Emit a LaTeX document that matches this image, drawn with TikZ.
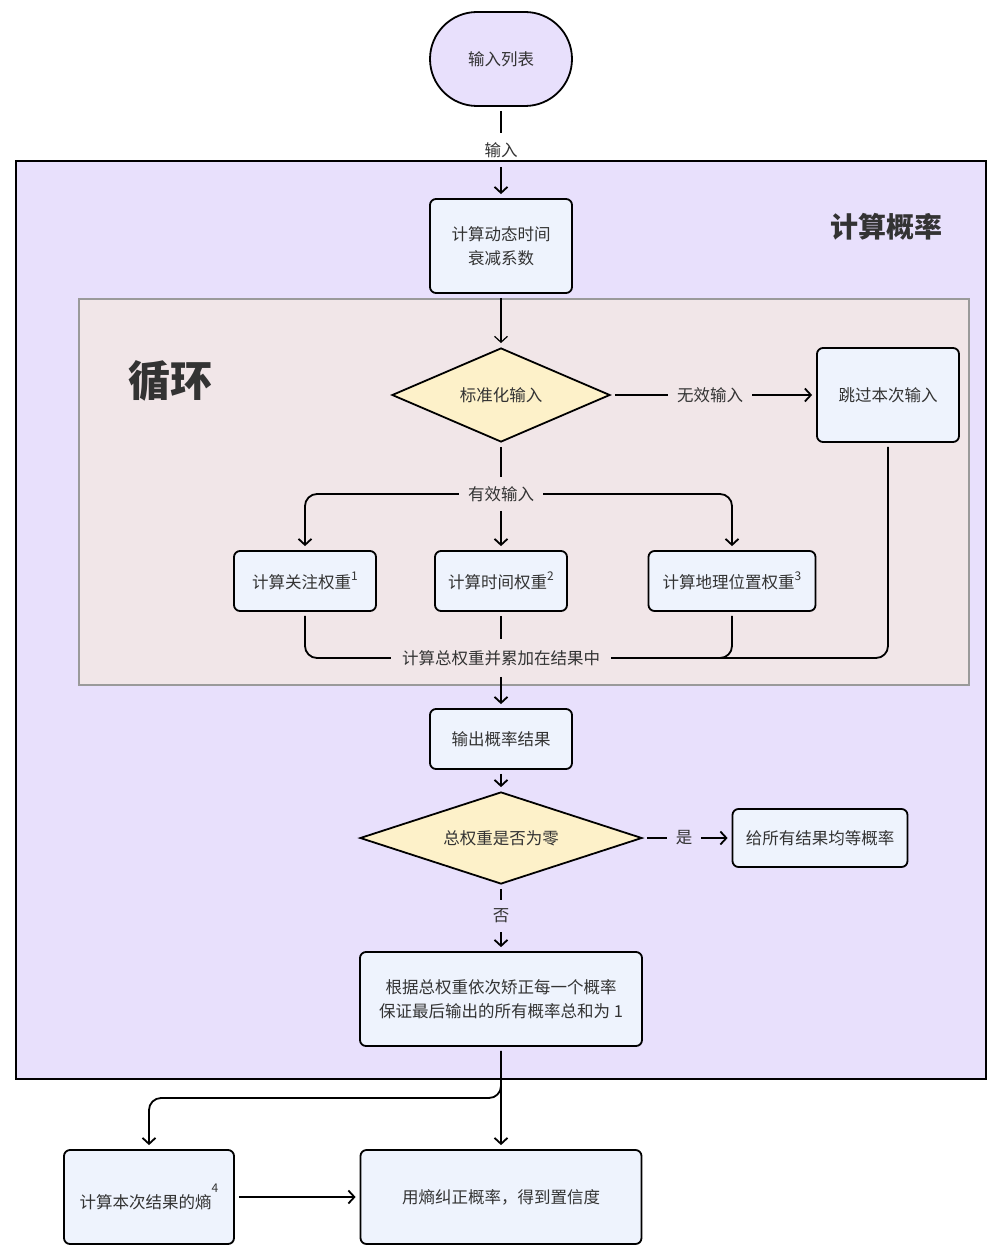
\documentclass[tikz,border=0pt]{standalone}
\usepackage{fontspec}
\setmainfont{Noto Sans CJK SC}
\usetikzlibrary{arrows.meta,shapes.geometric}
\definecolor{outerfill}{HTML}{E8E0FC}
\definecolor{loopfill}{HTML}{F1E6E8}
\definecolor{loopline}{HTML}{9A9A9A}
\definecolor{boxfill}{HTML}{EEF3FD}
\definecolor{decfill}{HTML}{FDF1C9}
\definecolor{txt}{HTML}{333333}
\newcommand{\mysup}[1]{\raisebox{0.45em}{\fontsize{12}{12}\selectfont #1}}
\begin{document}
\begin{tikzpicture}[x=1pt,y=-1pt,
  fs/.style={font=\fontsize{16.5}{24}\selectfont},
  box/.style={draw=black, line width=1.8pt, fill=boxfill, rounded corners=6pt, align=center, text=txt, fs, inner sep=0pt},
  dec/.style={diamond, draw=black, line width=1.8pt, fill=decfill, text=txt, fs, inner sep=0pt, shape aspect=2.3},
  lbl/.style={text=txt, fs, inner sep=5pt},
  conn/.style={line width=1.8pt, draw=black, shorten <=4pt, shorten >=4pt},
  arr/.style={conn, -{Straight Barb[length=6pt,width=13pt]}},
  rc/.style={rounded corners=12pt}]
\useasboundingbox (0,0) rectangle (997,1257);
% containers
\node[draw=black, line width=1.8pt, fill=outerfill, minimum width=970pt, minimum height=918pt, inner sep=0pt] (outer) at (501,620) {};
\node[draw=loopline, line width=1.8pt, fill=loopfill, minimum width=890pt, minimum height=386pt, inner sep=0pt] (loop) at (524,492) {};
\node[text=txt, font=\fontsize{28}{28}\selectfont\bfseries] (title) at (886,227) {计算概率};
\node[text=txt, font=\fontsize{42}{42}\selectfont\bfseries] (looptitle) at (170,381) {循环};
% nodes
\node[box, fill=outerfill, rounded corners=47pt, minimum width=142pt, minimum height=94pt] (start) at (501,59) {输入列表};
\node[lbl] (inLbl) at (501,150) {输入};
\node[box, minimum width=142pt, minimum height=94pt] (decay) at (501,246) {计算动态时间\\衰减系数};
\node[dec, minimum width=218pt, minimum height=94pt] (d1) at (501,395) {标准化输入};
\node[lbl] (invLbl) at (710,395) {无效输入};
\node[box, minimum width=142pt, minimum height=94pt] (skip) at (888,395) {跳过本次输入};
\node[lbl] (valid) at (501,494) {有效输入};
\node[box, minimum width=142pt, minimum height=60pt] (w1) at (305,581) {计算关注权重\mysup{1}};
\node[box, minimum width=132pt, minimum height=60pt] (w2) at (501,581) {计算时间权重\mysup{2}};
\node[box, minimum width=167pt, minimum height=60pt] (w3) at (732,581) {计算地理位置权重\mysup{3}};
\node[lbl, inner sep=7pt] (sum) at (501,658) {计算总权重并累加在结果中};
\node[box, minimum width=142pt, minimum height=60pt] (out) at (501,739) {输出概率结果};
\node[dec, minimum width=282pt, minimum height=92pt] (d2) at (501,838) {总权重是否为零};
\node[lbl] (yes) at (684,838) {是};
\node[box, minimum width=175pt, minimum height=58pt] (eq) at (820,838) {给所有结果均等概率};
\node[lbl] (no) at (501,916) {否};
\node[box, minimum width=282pt, minimum height=94pt] (corr) at (501,999) {根据总权重依次矫正每一个概率\\保证最后输出的所有概率总和为 1};
\coordinate (split) at (501,1098);
\node[box, minimum width=170pt, minimum height=94pt] (b4) at (149,1197) {计算本次结果的熵\raisebox{0.95em}{\fontsize{12}{12}\selectfont 4}};
\node[box, minimum width=281pt, minimum height=94pt] (b5) at (501,1197) {用熵纠正概率，得到置信度};
% connectors
\draw[conn] (start) -- (inLbl);
\draw[arr] (inLbl) -- (decay);
\draw[arr, line width=1.2pt] (decay) -- (d1);
\draw[conn] (d1) -- (invLbl);
\draw[arr] (invLbl) -- (skip);
\draw[conn] (d1) -- (valid);
\draw[arr, rc] (valid.west) -| (w1.north);
\draw[arr] (valid) -- (w2);
\draw[arr, rc] (valid.east) -| (w3.north);
\draw[conn, rc] (w1.south) |- (sum.west);
\draw[conn] (w2) -- (sum);
\draw[conn, rc] (w3.south) |- (sum.east);
\draw[conn, rc] (skip.south) |- (sum.east);
\draw[arr] (sum) -- (out);
\draw[arr] (out) -- (d2);
\draw[conn] (d2) -- (yes);
\draw[arr] (yes) -- (eq);
\draw[conn] (d2) -- (no);
\draw[arr] (no) -- (corr);
\draw[arr] (corr) -- (b5);
\draw[arr, rc] (corr.south) -- (split) -| (b4.north);
\draw[arr] (b4) -- (b5);
\end{tikzpicture}
\end{document}
